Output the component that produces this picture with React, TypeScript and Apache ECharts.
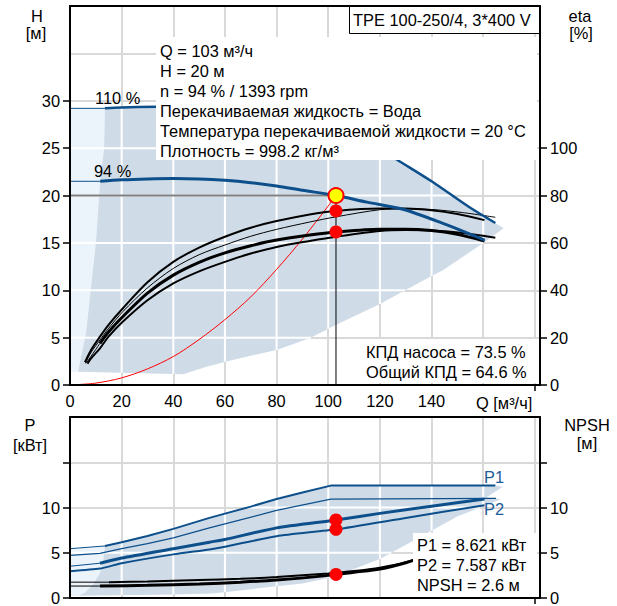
import React, { useEffect, useRef } from "react";
import * as echarts from "echarts";

const FONT = '"Liberation Sans", Arial, sans-serif';
const FS = 16.4;
const BLUE = "#0d4f8b";
const LABEL_BLUE = "#1f5b98";
const DARK = "#cfdce8";
const LIGHT = "#ecf4fb";
const GRID = "#d9d9d9";

// ---- axes ----
const qMax = 182;
const qGridValues = [20, 40, 60, 80, 100, 120, 140, 160, 180];
const qLabelValues = [0, 20, 40, 60, 80, 100, 120, 140];
const hLabelValues = [0, 5, 10, 15, 20, 25, 30];
const hGridValues = [5, 10, 15, 20, 25, 30, 35];
const etaLabelValues = [0, 20, 40, 60, 80, 100];
const pLabelValues = [0, 5, 10];
const pTickValues = [0, 5, 10, 15];
const pGridValues = [5, 10, 15];

// ---- top chart: shaded ranges (Q, H) ----
const topLightArea = [[0, 1.4], [0, 29.2], [13.5, 29.2], [13.2, 25], [11.7, 21.6], [10, 15], [8, 10], [6.2, 5.5], [3.1, 1.4]];
const topDarkArea = [
  [13.5, 29.2], [20, 29.3], [40, 29.4], [60, 29.4], [80, 29.2], [95, 28.6], [105, 27.5], [115, 25.8], [126.5, 23.8],
  [140, 21.5], [155, 18.7], [164.7, 17.1], [167.9, 16.55], [159.9, 14.96], [144.4, 12.1], [140, 11.5], [120, 8.55],
  [101.9, 6.2], [92.8, 4.93], [80, 3.7], [63, 2.65], [52.9, 1.93], [43.8, 1.13], [3.1, 1.4], [6.2, 5.5], [8, 10],
  [10, 15], [11.7, 21.6], [13.2, 25],
];

// ---- top chart curves ----
const maxCurveExt = [[0, 29.2], [13.5, 29.2]];
const maxCurve = [[13.5, 29.2], [20, 29.3], [40, 29.4], [60, 29.4], [80, 29.2], [95, 28.6], [105, 27.5], [115, 25.8], [126.5, 23.8], [140, 21.5], [155, 18.7], [164.7, 17.1]];
const n94Ext = [[0, 21.5], [11.7, 21.5]];
const n94Curve = [[11.7, 21.5], [20, 21.65], [30, 21.75], [40, 21.8], [50, 21.75], [60, 21.6], [70, 21.35], [80, 21.0], [90, 20.55], [103, 20.0], [115, 19.3], [128.9, 18.55], [144.4, 17.05], [160.5, 15.3]];
const systemQ = [0, 10, 20, 30, 40, 50, 60, 70, 80, 90, 100, 103];
const systemH = [0, 0.2, 0.75, 1.7, 3.0, 4.8, 6.9, 9.3, 12.2, 15.4, 18.9, 20.0];
const dutyLineH = [[0, 20], [103, 20]];
const dutyLineV = [[103, 20], [103, 0]];

const etaA = [[5.8, 9.6], [8, 14.5], [11.6, 20.4], [15, 25.5], [20.4, 32.3], [30, 43.4], [40, 52.0], [50, 58.0], [60, 62.6], [70, 66.4], [80, 69.2], [92.8, 72.0], [103, 73.5], [120, 74.5], [130, 74.5], [140, 73.8], [150, 72.2], [160.5, 69.6]];
const etaB = [[6.0, 9.2], [8, 13.5], [11.6, 19.0], [15, 24.0], [20.4, 30.9], [30, 41.0], [40, 49.2], [50, 55.0], [60, 59.1], [70, 62.8], [80, 65.7], [92.8, 68.8], [103, 71.0], [120, 74.0], [130, 74.4], [140, 74.1], [152, 72.8], [164.7, 70.8]];
const etaCExt = [[6.3, 9.2], [11.6, 17.6]];
const etaC = [[11.6, 17.6], [15, 22.5], [20.4, 28.8], [30, 38.8], [40, 46.4], [50, 51.8], [60, 55.8], [70, 58.8], [80, 61.2], [92.8, 63.3], [103, 64.6], [120, 65.8], [130, 65.8], [140, 65.2], [150, 63.6], [160.5, 60.8]];
const etaD = [[6.8, 9.0], [8, 11.0], [11.6, 15.5], [15, 20.5], [20.4, 26.7], [30, 35.8], [40, 42.9], [50, 48.0], [60, 52.0], [70, 55.5], [80, 58.3], [92.8, 60.8], [103, 62.6], [120, 65.0], [130, 65.4], [140, 65.2], [152, 64.2], [164.7, 62.2]];

const dutyPoint = [[103, 20]];
const etaPoints = [[103, 73.5], [103, 64.6]];

// ---- bottom chart: shaded ranges (Q, P) ----
const botLightArea = [[0, 0.2], [0, 5.45], [11.6, 5.67], [13.5, 5.75], [12.9, 4.28], [11.6, 2.8], [9, 1.53], [5.8, 0.62], [3.2, 0.25]];
const botDarkArea = [
  [13.5, 5.75], [20, 6.17], [30, 6.85], [40, 7.64], [54, 8.85], [60, 9.32], [70, 10.1], [80, 10.93], [90, 11.65], [101, 12.42],
  [164.7, 12.42], [167.6, 12.3], [161.2, 11.1], [166.8, 10.9], [150, 9.0], [134, 6.5], [120, 4.3], [110, 3.2], [100, 2.2],
  [90, 1.6], [80, 1.3], [65, 0.8], [55, 0.5], [40, 0.4], [20, 0.3], [3.2, 0.25], [5.8, 0.62], [9, 1.53], [11.6, 2.8], [12.9, 4.28],
];

// ---- bottom chart curves ----
const p1MaxExt = [[0, 5.45], [13.5, 5.75]];
const p1Max = [[13.5, 5.75], [20, 6.17], [30, 6.85], [40, 7.64], [54, 8.85], [60, 9.32], [70, 10.1], [80, 10.93], [90, 11.65], [101, 12.42], [164.7, 12.42]];
const p2Max = [[0, 4.71], [11.6, 4.93], [20, 5.45], [30, 6.0], [40, 6.65], [54, 7.75], [60, 8.19], [80, 9.68], [101, 10.93], [165, 11.0]];
const p1Ext = [[0, 3.51], [11.6, 3.84]];
const p1Curve = [[11.6, 3.84], [20, 4.42], [40, 5.45], [54, 6.17], [60, 6.47], [80, 7.75], [103, 8.62], [120, 9.35], [140, 10.15], [160.5, 10.93]];
const p2Curve = [[0, 2.96], [11.6, 3.25], [20, 3.84], [40, 4.82], [54, 5.37], [60, 5.67], [80, 6.83], [103, 7.59], [130, 8.85], [160.5, 10.25]];
const npshAExt = [[0, 1.75], [15, 1.75]];
const npshA = [[15, 1.75], [30, 1.83], [50, 1.98], [66, 2.12], [80, 2.32], [100, 2.72], [110, 2.98], [120, 3.35], [130, 3.95], [140, 4.9]];
const npshBExt = [[0, 1.32], [11.6, 1.32]];
const npshB = [[11.6, 1.32], [30, 1.4], [50, 1.55], [66, 1.75], [80, 1.98], [100, 2.5], [110, 2.85], [120, 3.2], [130, 3.9], [140, 4.85]];
const powerPoints = [[103, 8.621], [103, 7.587]];
const npshPoint = [[103, 2.6]];

const infoLines = [
  "Q = 103 м³/ч",
  "H = 20 м",
  "n = 94 % / 1393 rpm",
  "Перекачиваемая жидкость = Вода",
  "Температура перекачиваемой жидкости = 20 °C",
  "Плотность = 998.2 кг/м³",
];
const etaLines = ["КПД насоса = 73.5 %", "Общий КПД = 64.6 %"];
const powerLines = ["P1 = 8.621 кВт", "P2 = 7.587 кВт", "NPSH = 2.6 м"];

function clipLines(poly: number[][], values: number[], vertical: boolean) {
  const segs: number[][][] = [];
  for (const c of values) {
    const hits: number[] = [];
    for (let i = 0; i < poly.length; i++) {
      const a = poly[i];
      const b = poly[(i + 1) % poly.length];
      const ai = vertical ? a[0] : a[1];
      const bi = vertical ? b[0] : b[1];
      if ((ai <= c && bi > c) || (bi <= c && ai > c)) {
        const t = (c - ai) / (bi - ai);
        hits.push(vertical ? a[1] + t * (b[1] - a[1]) : a[0] + t * (b[0] - a[0]));
      }
    }
    hits.sort((x, y) => x - y);
    for (let k = 0; k + 1 < hits.length; k += 2) {
      segs.push(vertical ? [[c, hits[k]], [c, hits[k + 1]]] : [[hits[k], c], [hits[k + 1], c]]);
    }
  }
  return segs;
}

function areaSeries(light: number[][], dark: number[][], xi: number, yi: number, hVals: number[]) {
  return {
    type: "custom",
    xAxisIndex: xi,
    yAxisIndex: yi,
    z: 1,
    silent: true,
    clip: false,
    data: [[0, 0]],
    renderItem: (_params: any, api: any) => {
      const pts = (poly: number[][]) => poly.map((p) => api.coord(p));
      const children: any[] = [
        { type: "polygon", shape: { points: pts(light) }, style: { fill: LIGHT } },
        { type: "polygon", shape: { points: pts(dark) }, style: { fill: DARK } },
      ];
      const segs = [
        ...clipLines(light, qGridValues, true),
        ...clipLines(dark, qGridValues, true),
        ...clipLines(light, hVals, false),
        ...clipLines(dark, hVals, false),
      ];
      segs.forEach((s) => {
        const a = api.coord(s[0]);
        const b = api.coord(s[1]);
        children.push({ type: "line", shape: { x1: a[0], y1: a[1], x2: b[0], y2: b[1] }, style: { stroke: "#ffffff", lineWidth: 2 } });
      });
      return { type: "group", children };
    },
  };
}

function line(data: any[], xi: number, yi: number, color: string, width: number, z = 5, smooth: any = 0.3) {
  return {
    type: "line",
    xAxisIndex: xi,
    yAxisIndex: yi,
    data,
    symbol: "none",
    showSymbol: false,
    smooth,
    silent: true,
    lineStyle: { color, width },
    z,
  };
}

function dots(data: any[], xi: number, yi: number, size: number, color: string, border?: string) {
  return {
    type: "scatter",
    xAxisIndex: xi,
    yAxisIndex: yi,
    data,
    symbol: "circle",
    symbolSize: size,
    silent: true,
    itemStyle: border ? { color, borderColor: border, borderWidth: 2, opacity: 1 } : { color, opacity: 1 },
    z: 20,
  };
}

const labelStyle = { color: "#000", fontSize: FS, fontFamily: FONT };
const blackLine = { show: true, onZero: false, lineStyle: { color: "#000", width: 2 } };
const none = { show: false };

function xAxes(grid: number, showLabels: boolean) {
  return [
    {
      gridIndex: grid, type: "value", min: 0, max: qMax, interval: 20, position: "bottom", z: 10,
      axisLine: blackLine,
      axisTick: { show: true, customValues: [180], length: 6, lineStyle: { color: "#000", width: 1.5 } },
      axisLabel: showLabels
        ? { ...labelStyle, margin: 8, customValues: qLabelValues, formatter: (v: number) => (qLabelValues.includes(v) ? String(v) : "") }
        : none,
      splitLine: none,
    },
    { gridIndex: grid, type: "value", min: 0, max: qMax, interval: 20, position: "top", z: 10, axisLine: blackLine, axisTick: none, axisLabel: none, splitLine: none },
    {
      gridIndex: grid, type: "value", min: 0, max: qMax, interval: 20, position: "bottom", z: 0,
      axisLine: none, axisTick: none, axisLabel: none, splitLine: { show: true, lineStyle: { color: GRID, width: 2 } },
    },
  ];
}

function yAxis(grid: number, pos: string, max: number, interval: number, ticks: number[], labels: number[]) {
  return {
    gridIndex: grid, type: "value", min: 0, max, interval, position: pos, z: 10,
    axisLine: blackLine,
    axisTick: { show: true, customValues: ticks, length: 7, lineStyle: { color: "#000", width: 1.5 } },
    axisLabel: { ...labelStyle, margin: 10, customValues: labels, formatter: (v: number) => (labels.includes(v) ? String(v) : "") },
    splitLine: none,
  };
}

function gridYAxis(grid: number, max: number, interval: number) {
  return {
    gridIndex: grid, type: "value", min: 0, max, interval, position: "left", z: 0,
    axisLine: none, axisTick: none, axisLabel: none, splitLine: { show: true, lineStyle: { color: GRID, width: 2 } },
  };
}

function txt(text: string, x: number, y: number, opts: any = {}) {
  return {
    type: "text", x, y, z: 51,
    style: { text, font: `${FS}px ${FONT}`, fill: opts.fill || "#000", align: opts.align || "left", verticalAlign: "middle" },
  };
}

function buildOption() {
  const graphic: any[] = [
    // top info block
    { type: "rect", z: 50, shape: { x: 156, y: 37, width: 381, height: 123 }, style: { fill: "#fff" } },
    ...infoLines.map((t, i) => txt(t, 160, 51 + i * 20)),
    // title box
    { type: "rect", z: 50, shape: { x: 349.5, y: 6.5, width: 190, height: 27 }, style: { fill: "#fff", stroke: "#000", lineWidth: 1 } },
    txt("TPE 100-250/4, 3*400 V", 353, 20),
    // efficiency box
    { type: "rect", z: 50, shape: { x: 362, y: 339, width: 175, height: 44 }, style: { fill: "#fff" } },
    ...etaLines.map((t, i) => txt(t, 366, 352 + i * 20)),
    // power box
    { type: "rect", z: 50, shape: { x: 413, y: 533, width: 124, height: 64 }, style: { fill: "#fff" } },
    ...powerLines.map((t, i) => txt(t, 417, 545 + i * 20)),
    // curve labels
    txt("110 %", 95, 98),
    txt("94 %", 94, 171),
    txt("P1", 484, 477, { fill: LABEL_BLUE }),
    txt("P2", 484, 509, { fill: LABEL_BLUE }),
    txt("Q [м³/ч]", 476, 403),
    // axis names
    txt("H", 37, 16, { align: "center" }),
    txt("[м]", 36, 33, { align: "center" }),
    txt("eta", 580, 16, { align: "center" }),
    txt("[%]", 581, 33, { align: "center" }),
    txt("P", 30, 425, { align: "center" }),
    txt("[кВт]", 30, 445, { align: "center" }),
    txt("NPSH", 587, 425, { align: "center" }),
    txt("[м]", 587, 443, { align: "center" }),
  ];

  const systemCurve = systemQ.map((q, i) => [q, systemH[i]]);

  return {
    animation: false,
    backgroundColor: "#fff",
    grid: [
      { left: 70, top: 6, width: 470, height: 379 },
      { left: 70, top: 417, width: 470, height: 182 },
    ],
    xAxis: [...xAxes(0, true), ...xAxes(1, false)],
    yAxis: [
      yAxis(0, "left", 40, 5, hLabelValues, hLabelValues),
      yAxis(0, "right", 160, 20, etaLabelValues, etaLabelValues),
      gridYAxis(0, 40, 5),
      yAxis(1, "left", 20, 5, pTickValues, pLabelValues),
      yAxis(1, "right", 20, 5, pTickValues, pLabelValues),
      gridYAxis(1, 20, 5),
    ],
    series: [
      areaSeries(topLightArea, topDarkArea, 0, 0, hGridValues),
      areaSeries(botLightArea, botDarkArea, 3, 3, pGridValues),
      // top chart
      line(dutyLineH, 0, 0, "#808080", 2, 4, false),
      line(dutyLineV, 0, 0, "#000", 1, 4, false),
      line(systemCurve, 0, 0, "#ff0000", 1, 4, 0.3),
      line(etaA, 0, 1, "#000", 2, 5),
      line(etaB, 0, 1, "#000", 1, 5),
      line(etaCExt, 0, 1, "#000", 1, 5),
      line(etaC, 0, 1, "#000", 3, 5),
      line(etaD, 0, 1, "#000", 2, 5),
      line(maxCurveExt, 0, 0, BLUE, 1, 6, false),
      line(maxCurve, 0, 0, BLUE, 2.5, 6, 0.3),
      line(n94Ext, 0, 0, BLUE, 1, 6, false),
      line(n94Curve, 0, 0, BLUE, 3, 6, 0.3),
      dots(etaPoints, 0, 1, 13, "#ff0000"),
      dots(dutyPoint, 0, 0, 15, "#ffff00", "#ff0000"),
      // bottom chart
      line(p1MaxExt, 3, 3, BLUE, 1, 6, false),
      line(p1Max, 3, 3, BLUE, 2, 6, false),
      line(p2Max, 3, 3, BLUE, 1.2, 6, false),
      line(p1Ext, 3, 3, BLUE, 1, 6, false),
      line(p1Curve, 3, 3, BLUE, 3, 6, 0.2),
      line(p2Curve, 3, 3, BLUE, 2, 6, 0.2),
      line(npshAExt, 3, 4, "#000", 1, 5, false),
      line(npshA, 3, 4, "#000", 2, 5, 0.3),
      line(npshBExt, 3, 4, "#000", 1, 5, false),
      line(npshB, 3, 4, "#000", 3, 5, 0.3),
      dots(powerPoints, 3, 3, 13, "#ff0000"),
      dots(npshPoint, 3, 4, 13, "#ff0000"),
    ],
    graphic,
  };
}

export default function App() {
  const ref = useRef<HTMLDivElement | null>(null);
  useEffect(() => {
    if (!ref.current) return;
    const chart = echarts.init(ref.current, null, { renderer: "svg" });
    chart.setOption(buildOption() as any);
    return () => chart.dispose();
  }, []);
  return <div ref={ref} style={{ position: "absolute", left: 0, top: 0, width: 617, height: 606 }} />;
}
